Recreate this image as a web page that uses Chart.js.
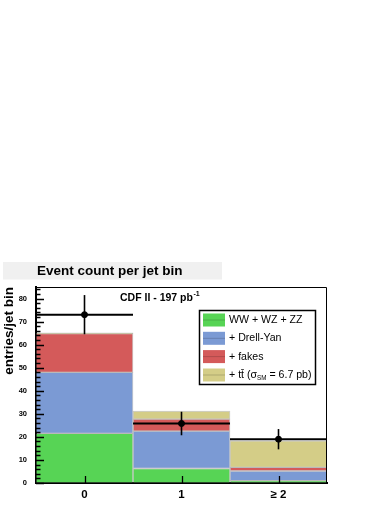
<!DOCTYPE html>
<html>
<head>
<meta charset="utf-8">
<script src="https://cdn.jsdelivr.net/npm/chart.js@4.4.1/dist/chart.umd.min.js"></script>
<style>
  body { margin: 0; background: #fff; }
  #wrap { position: relative; width: 392px; height: 508px; }
</style>
</head>
<body>
<div id="wrap"><canvas id="c" width="392" height="508"></canvas></div>
<script>
// jet multiplicity bins
const jetBins = ['0', '1', '\u2265 2'];

// stacked expectations, per bin
const dibosonVals = [21.5, 6.3, 1.0];
const drellYanVals = [26.5, 16.2, 4.2];
const fakesVals = [16.8, 5.2, 1.6];
const ttbarVals = [0.3, 3.5, 11.5];

// observed data and its error
const dataVals = [73, 25.8, 19];
const dataErr = [8.5, 5.1, 4.4];

const yMax = 85;
const yMajorStep = 10;
const yMinorStep = 2;

const FONT = '"Liberation Sans", Arial, Helvetica, sans-serif';
const TITLE = 'Event count per jet bin';

// keep only the multiples of a step (drops the extra tick at yMax)
const keepEvery = step => s => { s.ticks = s.ticks.filter(t => t.value % step === 0); };

const rootPlugin = {
  id: 'rootStyle',
  beforeDraw(chart) {
    const ctx = chart.ctx;
    ctx.save();
    ctx.fillStyle = '#f0f0f0';
    ctx.fillRect(3, 262, 219, 17.5);
    ctx.fillStyle = '#000';
    ctx.font = 'bold 13.5px ' + FONT;
    ctx.textBaseline = 'middle';
    ctx.fillText(TITLE, 37, 271);
    ctx.restore();
  },
  afterDatasetsDraw(chart) {
    const ctx = chart.ctx;
    const x = chart.scales.x, y = chart.scales.y;
    const a = chart.chartArea;
    const bars = chart.getDatasetMeta(0).data;
    ctx.save();
    ctx.strokeStyle = '#000';
    // frame top + right
    ctx.lineWidth = 1;
    ctx.beginPath();
    ctx.moveTo(a.left, a.top + 0.5);
    ctx.lineTo(a.right - 0.5, a.top + 0.5);
    ctx.lineTo(a.right - 0.5, a.bottom);
    ctx.stroke();

    // data error bars
    dataVals.forEach((v, i) => {
      const cx = x.getPixelForValue(i);
      const half = bars[i].width / 2;
      const py = y.getPixelForValue(v);
      ctx.lineWidth = 2;
      ctx.beginPath();
      ctx.moveTo(cx - half, py);
      ctx.lineTo(cx + half, py);
      ctx.stroke();
      ctx.lineWidth = 1.6;
      ctx.beginPath();
      ctx.moveTo(cx, y.getPixelForValue(v + dataErr[i]));
      ctx.lineTo(cx, y.getPixelForValue(v - dataErr[i]));
      ctx.stroke();
    });
    ctx.restore();
  },
  afterDraw(chart) {
    const ctx = chart.ctx;
    const x = chart.scales.x, y = chart.scales.y;
    const a = chart.chartArea;
    ctx.save();

    // inward ticks, ROOT style
    ctx.strokeStyle = '#000';
    ctx.lineWidth = 1.3;
    ctx.beginPath();
    for (let v = 0; v <= y.max; v += yMinorStep) {
      const py = Math.round(y.getPixelForValue(v)) + 0.5;
      const len = v % yMajorStep === 0 ? 8 : 4.5;
      ctx.moveTo(a.left, py);
      ctx.lineTo(a.left + len, py);
    }
    x.ticks.forEach((t, i) => {
      const px = Math.round(x.getPixelForValue(i)) + 0.5;
      ctx.moveTo(px, a.bottom);
      ctx.lineTo(px, a.bottom - 7);
    });
    ctx.stroke();

    // experiment label
    ctx.fillStyle = '#000';
    ctx.textBaseline = 'alphabetic';
    ctx.font = 'bold 10.5px ' + FONT;
    const lab = 'CDF II - 197 pb';
    ctx.fillText(lab, 120, 301);
    const w = ctx.measureText(lab).width;
    ctx.font = 'bold 7px ' + FONT;
    ctx.fillText('-1', 120 + w + 0.5, 296);

    // legend box
    ctx.lineWidth = 1.5;
    ctx.strokeStyle = '#000';
    ctx.strokeRect(199.5, 310.5, 116, 74);
    const rows = [320, 338.3, 356.6, 375];
    chart.data.datasets.forEach((ds, i) => {
      if (ds.type === 'line') return;
      const ry = rows[i];
      ctx.fillStyle = ds.backgroundColor;
      ctx.fillRect(203, ry - 6.5, 22, 13);
      ctx.strokeStyle = 'rgba(0,0,0,0.25)';
      ctx.lineWidth = 0.7;
      ctx.beginPath();
      ctx.moveTo(203, ry);
      ctx.lineTo(225, ry);
      ctx.stroke();
      ctx.fillStyle = '#000';
      ctx.textBaseline = 'middle';
      let tx = 229;
      // label pieces: "_XX_" marks a subscript
      ds.label.split('_').forEach((part, k) => {
        if (k % 2 === 1) {
          ctx.font = '6.3px ' + FONT;
          ctx.fillText(part, tx, ry + 3);
        } else {
          ctx.font = '10.6px ' + FONT;
          ctx.fillText(part, tx, ry);
        }
        tx += ctx.measureText(part).width;
      });
    });
    ctx.restore();
  }
};

const barStyle = (label, vals, color) => ({
  type: 'bar',
  label: label,
  data: vals,
  backgroundColor: color,
  borderColor: 'rgba(90,90,90,0.3)',
  borderWidth: 1,
  borderSkipped: false,
  barPercentage: 1,
  categoryPercentage: 1,
  stack: 'mc',
  order: 1
});

new Chart(document.getElementById('c'), {
  data: {
    labels: jetBins,
    datasets: [
      barStyle('WW + WZ + ZZ', dibosonVals, '#57d455'),
      barStyle('+ Drell-Yan', drellYanVals, '#7b9ad4'),
      barStyle('+ fakes', fakesVals, '#d45a5a'),
      barStyle('+ tt\u0304 (\u03c3_SM_ = 6.7 pb)', ttbarVals, '#d4cd87'),
      {
        type: 'line',
        label: 'data',
        data: dataVals,
        showLine: false,
        pointRadius: 3,
        pointBackgroundColor: '#000',
        pointBorderColor: '#000',
        stack: 'data',
        order: 0
      }
    ]
  },
  options: {
    responsive: false,
    animation: false,
    devicePixelRatio: 1,
    layout: { padding: { top: 287, right: 65, bottom: 0, left: 0 } },
    plugins: {
      legend: { display: false },
      tooltip: { enabled: false }
    },
    scales: {
      x: {
        type: 'category',
        stacked: true,
        offset: true,
        grid: { display: false, drawTicks: false },
        border: { color: '#000', width: 2 },
        ticks: { color: '#000', font: { family: FONT, size: 11.5, weight: 'bold' }, padding: 5 },
        afterFit: s => { s.height = 25; }
      },
      y: {
        stacked: true,
        min: 0,
        max: yMax,
        ticks: { stepSize: yMajorStep, color: '#000', font: { family: FONT, size: 7.5, weight: 'bold' }, padding: 9 },
        grid: { display: false, drawTicks: false },
        border: { color: '#000', width: 2 },
        title: {
          display: true,
          text: 'entries/jet bin',
          align: 'end',
          color: '#000',
          font: { family: FONT, size: 13.5, weight: 'bold' },
          padding: { top: 1, bottom: 0 }
        },
        afterBuildTicks: keepEvery(yMajorStep),
        afterFit: s => { s.width = 36; }
      }
    }
  },
  plugins: [rootPlugin]
});
</script>
</body>
</html>
